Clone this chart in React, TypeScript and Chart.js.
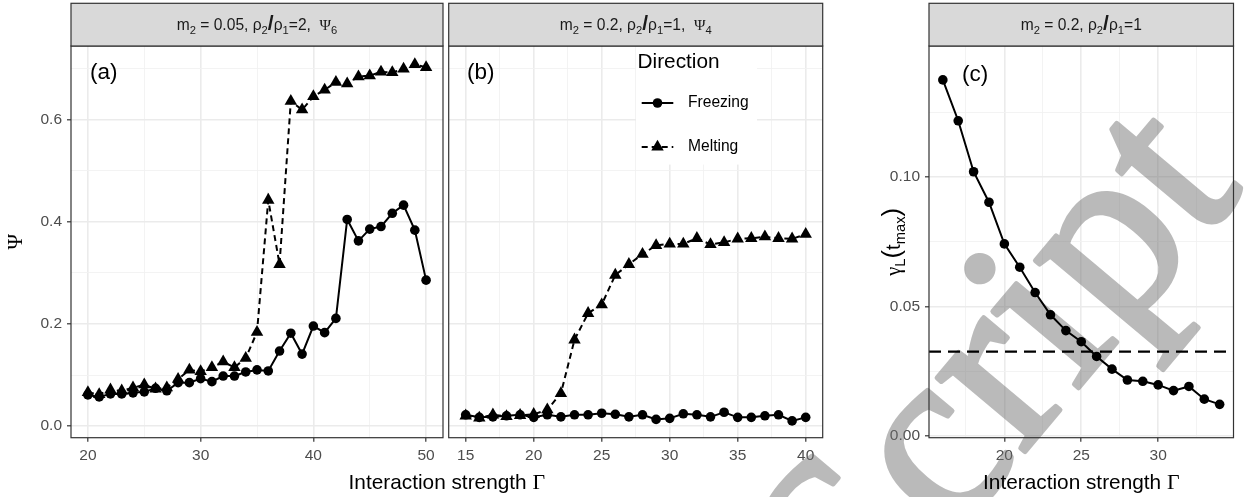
import { useEffect, useRef } from 'react';
import { Chart, registerables } from 'chart.js';

Chart.register(...registerables);

const W = 1256;
const H = 497;
const SANS = '"Liberation Sans", Arial, Helvetica, sans-serif';
const SERIF = '"Liberation Serif", "DejaVu Serif", serif';

// ---------------- data ----------------
// Panel (a): m2 = 0.05, rho2/rho1 = 2, Psi6
const gammaA = [20, 21, 22, 23, 24, 25, 26, 27, 28, 29, 30, 31, 32, 33, 34, 35, 36, 37, 38, 39, 40, 41, 42, 43, 44, 45, 46, 47, 48, 49, 50];
const freezingA = [0.061, 0.057, 0.063, 0.063, 0.065, 0.067, 0.074, 0.069, 0.085, 0.085, 0.093, 0.087, 0.098, 0.098, 0.106, 0.110, 0.108, 0.147, 0.182, 0.141, 0.196, 0.183, 0.211, 0.405, 0.363, 0.386, 0.391, 0.417, 0.433, 0.384, 0.286];
const meltingA = [0.066, 0.062, 0.071, 0.069, 0.075, 0.081, 0.073, 0.075, 0.092, 0.110, 0.107, 0.115, 0.126, 0.115, 0.133, 0.184, 0.443, 0.317, 0.637, 0.620, 0.646, 0.659, 0.674, 0.671, 0.685, 0.687, 0.694, 0.693, 0.700, 0.709, 0.703];

// Panel (b): m2 = 0.2, rho2/rho1 = 1, Psi4
const gammaB = [15, 16, 17, 18, 19, 20, 21, 22, 23, 24, 25, 26, 27, 28, 29, 30, 31, 32, 33, 34, 35, 36, 37, 38, 39, 40];
const freezingB = [0.022, 0.017, 0.018, 0.020, 0.022, 0.017, 0.022, 0.018, 0.022, 0.022, 0.025, 0.023, 0.018, 0.022, 0.013, 0.015, 0.024, 0.022, 0.018, 0.027, 0.017, 0.017, 0.020, 0.022, 0.010, 0.017];
const meltingB = [0.020, 0.016, 0.022, 0.019, 0.021, 0.023, 0.032, 0.064, 0.169, 0.221, 0.238, 0.296, 0.317, 0.337, 0.354, 0.357, 0.357, 0.368, 0.356, 0.360, 0.367, 0.368, 0.371, 0.368, 0.367, 0.376];

// Panel (c): m2 = 0.2, rho2/rho1 = 1, growth rate
const gammaC = [16, 17, 18, 19, 20, 21, 22, 23, 24, 25, 26, 27, 28, 29, 30, 31, 32, 33, 34];
const growthC = [0.1376, 0.1218, 0.1021, 0.0903, 0.0742, 0.0652, 0.0554, 0.0468, 0.0407, 0.0364, 0.0307, 0.0258, 0.0216, 0.0211, 0.0197, 0.0175, 0.0191, 0.0142, 0.0122];
const thresholdC = 0.0326;

const seriesNames = ['Freezing', 'Melting'];
const legendTitle = 'Direction';
const xTitle = 'Interaction strength ';
const xTitleSymbol = 'Γ';
const panelTags = ['(a)', '(b)', '(c)'];
const tagX = [21.4, 16.1, 18.1];
const tagYAB = 0.692;
const tagYC = 0.1395;
const watermark = 'Script';

// ticks
const xMajorA = [20, 30, 40, 50];
const xMinorA = [25, 35, 45];
const xMajorB = [15, 20, 25, 30, 35, 40];
const xMinorB = [17.5, 22.5, 27.5, 32.5, 37.5];
const xMajorC = [20, 25, 30];
const xMinorC = [17.5, 22.5, 27.5, 32.5];
const yMajorAB = [0, 0.2, 0.4, 0.6];
const yLabelsAB = ['0.0', '0.2', '0.4', '0.6'];
const yMinorAB = [0.1, 0.3, 0.5, 0.7];
const yMajorC = [0, 0.05, 0.1];
const yLabelsC = ['0.00', '0.05', '0.10'];
const yMinorC = [0.025, 0.075, 0.125];

// ---------------- style ----------------
const STRIP_TOP = 3.3;
const PLOT_TOP = 46;
const PLOT_BOTTOM = 437.7;
const AXIS = '#333333';
const GRID_MAJOR = '#EBEBEB';
const GRID_MINOR = '#F2F2F2';
const TICK_TXT = '#4D4D4D';
const STRIP_BG = '#D9D9D9';
const STRIP_TXT = '#1A1A1A';
const TICK_FONT = 15.5;
const TITLE_FONT = 20.8;

type Seg = { t: string; sub?: boolean; serif?: boolean; bold?: boolean; scale?: number };

function isIn(list: number[], v: number) {
  return list.some((m) => Math.abs(m - v) < 1e-9);
}

function drawRich(ctx: CanvasRenderingContext2D, segs: Seg[], x: number, y: number, size: number, color: string) {
  const fontFor = (s: Seg) => {
    const sz = (s.sub ? size * 0.72 : size) * (s.scale || 1);
    return `${s.bold ? 'bold ' : ''}${sz}px ${s.serif ? SERIF : SANS}`;
  };
  let total = 0;
  const widths = segs.map((s) => {
    ctx.font = fontFor(s);
    const w = ctx.measureText(s.t).width;
    total += w;
    return w;
  });
  let cx = x - total / 2;
  ctx.fillStyle = color;
  ctx.textAlign = 'left';
  ctx.textBaseline = 'alphabetic';
  segs.forEach((s, i) => {
    ctx.font = fontFor(s);
    ctx.fillText(s.t, cx, y + (s.sub ? size * 0.25 : 0));
    cx += widths[i];
  });
}

function stripSegs(m: string, ratio: string, psi?: string): Seg[] {
  const s: Seg[] = [
    { t: 'm' }, { t: '2', sub: true }, { t: ' = ' + m + ', ' },
    { t: 'ρ' }, { t: '2', sub: true }, { t: '/', bold: true, scale: 1.35 },
    { t: 'ρ' }, { t: '1', sub: true }, { t: '=' + ratio + (psi ? ',  ' : '') },
  ];
  if (psi) {
    s.push({ t: 'Ψ', serif: true }, { t: psi, sub: true });
  }
  return s;
}

function xScale(min: number, max: number, major: number[], minor: number[]) {
  return {
    type: 'linear',
    min,
    max,
    bounds: 'data',
    afterBuildTicks: (axis: any) => {
      axis.ticks = [...major, ...minor].sort((a, b) => a - b).map((v) => ({ value: v }));
    },
    afterFit: (axis: any) => {
      axis.height = H - PLOT_BOTTOM;
    },
    border: { display: false },
    grid: {
      color: (c: any) => (isIn(major, c.tick?.value) ? GRID_MAJOR : GRID_MINOR),
      lineWidth: (c: any) => (isIn(major, c.tick?.value) ? 1.6 : 0.9),
      tickColor: (c: any) => (isIn(major, c.tick?.value) ? AXIS : 'rgba(0,0,0,0)'),
      tickWidth: 1.2,
      tickLength: 4,
      drawTicks: true,
    },
    ticks: {
      autoSkip: false,
      maxRotation: 0,
      minRotation: 0,
      padding: 4.5,
      color: TICK_TXT,
      font: { family: SANS, size: TICK_FONT },
      callback: (v: number) => {
        const i = major.findIndex((m) => Math.abs(m - v) < 1e-9);
        return i >= 0 ? String(major[i]) : '';
      },
    },
  };
}

function yScale(min: number, max: number, major: number[], labels: string[], minor: number[], width: number, show: boolean) {
  return {
    type: 'linear',
    min,
    max,
    bounds: 'data',
    afterBuildTicks: (axis: any) => {
      axis.ticks = [...major, ...minor].sort((a, b) => a - b).map((v) => ({ value: v }));
    },
    afterFit: (axis: any) => {
      axis.width = width;
    },
    border: { display: false },
    grid: {
      color: (c: any) => (isIn(major, c.tick?.value) ? GRID_MAJOR : GRID_MINOR),
      lineWidth: (c: any) => (isIn(major, c.tick?.value) ? 1.6 : 0.9),
      tickColor: (c: any) => (show && isIn(major, c.tick?.value) ? AXIS : 'rgba(0,0,0,0)'),
      tickWidth: 1.2,
      tickLength: 4,
      drawTicks: show,
    },
    ticks: {
      display: show,
      autoSkip: false,
      padding: 5,
      color: TICK_TXT,
      font: { family: SANS, size: TICK_FONT },
      callback: (v: number) => {
        const i = major.findIndex((m) => Math.abs(m - v) < 1e-9);
        return i >= 0 ? labels[i] : '';
      },
    },
  };
}

function series(xs: number[], ys: number[], dashed: boolean, label: string) {
  return {
    label,
    data: xs.map((x, i) => ({ x, y: ys[i] })),
    borderColor: '#000',
    borderWidth: 2,
    borderDash: dashed ? [6, 4] : [],
    tension: 0,
    fill: false,
    pointStyle: dashed ? 'triangle' : 'circle',
    pointRadius: dashed ? 7.2 : 4.8,
    pointHoverRadius: dashed ? 7.2 : 4.8,
    pointBackgroundColor: '#000',
    pointBorderColor: '#000',
    pointBorderWidth: 0,
  };
}

function drawMarker(ctx: CanvasRenderingContext2D, kind: string, x: number, y: number, r: number) {
  ctx.beginPath();
  if (kind === 'circle') {
    ctx.arc(x, y, r, 0, Math.PI * 2);
  } else {
    ctx.moveTo(x, y - r);
    ctx.lineTo(x + r * 0.866, y + r / 2);
    ctx.lineTo(x - r * 0.866, y + r / 2);
    ctx.closePath();
  }
  ctx.fillStyle = '#000';
  ctx.fill();
}

function drawXTitle(ctx: CanvasRenderingContext2D, cx: number) {
  drawRich(ctx, [{ t: xTitle }, { t: xTitleSymbol, serif: true, scale: 1.05 }], cx, 488.5, TITLE_FONT, '#000');
}

function drawWatermark(ctx: CanvasRenderingContext2D) {
  const off = document.createElement('canvas');
  off.width = W;
  off.height = H;
  const o = off.getContext('2d')!;
  o.translate(861, 647);
  o.rotate((-50 * Math.PI) / 180);
  o.font = `250px ${SERIF}`;
  o.textAlign = 'left';
  o.textBaseline = 'alphabetic';
  o.fillStyle = '#6e6e6e';
  o.strokeStyle = '#6e6e6e';
  o.lineWidth = 5;
  o.lineJoin = 'round';
  o.fillText(watermark, 0, 0);
  o.strokeText(watermark, 0, 0);
  ctx.save();
  ctx.globalAlpha = 0.47;
  ctx.drawImage(off, 0, 0);
  ctx.restore();
}

function panelPlugin(strip: Seg[], tag: string, tx: number, ty: number, extraBefore?: (c: any) => void, extraAfter?: (c: any) => void) {
  return {
    id: 'panelDecor',
    beforeDatasetsDraw(chart: any) {
      if (extraBefore) extraBefore(chart);
    },
    afterDatasetsDraw(chart: any) {
      const { ctx, chartArea: a, scales } = chart;
      ctx.save();
      if (extraAfter) extraAfter(chart);
      ctx.strokeStyle = AXIS;
      ctx.lineWidth = 1.2;
      ctx.setLineDash([]);
      ctx.strokeRect(a.left, a.top, a.right - a.left, a.bottom - a.top);
      ctx.fillStyle = STRIP_BG;
      ctx.fillRect(a.left, STRIP_TOP, a.right - a.left, a.top - STRIP_TOP);
      ctx.strokeRect(a.left, STRIP_TOP, a.right - a.left, a.top - STRIP_TOP);
      drawRich(ctx, strip, (a.left + a.right) / 2, 30, 15.6, STRIP_TXT);
      ctx.font = `22.5px ${SANS}`;
      ctx.fillStyle = '#000';
      ctx.textAlign = 'center';
      ctx.textBaseline = 'middle';
      ctx.fillText(tag, scales.x.getPixelForValue(tx), scales.y.getPixelForValue(ty));
      ctx.restore();
    },
  };
}

function baseOptions(padLeft: number, padRight: number, scales: any) {
  return {
    responsive: false,
    animation: false,
    devicePixelRatio: 1,
    events: [],
    layout: { padding: { left: padLeft, right: padRight, top: PLOT_TOP, bottom: 0 } },
    plugins: { legend: { display: false }, tooltip: { enabled: false } },
    scales,
  };
}

export default function App() {
  const refA = useRef<HTMLCanvasElement>(null);
  const refB = useRef<HTMLCanvasElement>(null);
  const refC = useRef<HTMLCanvasElement>(null);

  useEffect(() => {
    const charts: Chart[] = [];
    const yMinAB = -0.0229;
    const yMaxAB = 0.745;

    // ---- panel A ----
    charts.push(
      new Chart(refA.current!, {
        type: 'line',
        data: {
          datasets: [
            series(gammaA, meltingA, true, seriesNames[1]),
            series(gammaA, freezingA, false, seriesNames[0]),
          ] as any,
        },
        options: baseOptions(0, W - 443, {
          x: xScale(18.5, 51.5, xMajorA, xMinorA),
          y: yScale(yMinAB, yMaxAB, yMajorAB, yLabelsAB, yMinorAB, 71, true),
        }) as any,
        plugins: [
          panelPlugin(stripSegs('0.05', '2', '6'), panelTags[0], tagX[0], tagYAB),
          {
            id: 'titlesA',
            afterDraw(chart: any) {
              const ctx = chart.ctx;
              ctx.save();
              drawXTitle(ctx, 446.8);
              ctx.fillStyle = '#000';
              ctx.textAlign = 'center';
              ctx.textBaseline = 'middle';
              ctx.translate(16, (PLOT_TOP + PLOT_BOTTOM) / 2);
              ctx.rotate(-Math.PI / 2);
              ctx.font = `21px ${SERIF}`;
              ctx.fillText('Ψ', 0, 0);
              ctx.restore();
            },
          },
        ],
      })
    );

    // ---- panel B ----
    charts.push(
      new Chart(refB.current!, {
        type: 'line',
        data: {
          datasets: [
            series(gammaB, meltingB, true, seriesNames[1]),
            series(gammaB, freezingB, false, seriesNames[0]),
          ] as any,
        },
        options: baseOptions(445, W - 822.7, {
          x: xScale(13.75, 41.25, xMajorB, xMinorB),
          y: yScale(yMinAB, yMaxAB, yMajorAB, yLabelsAB, yMinorAB, 3.7, false),
        }) as any,
        plugins: [
          panelPlugin(stripSegs('0.2', '1', '4'), panelTags[1], tagX[1], tagYAB, undefined, (chart: any) => {
            const ctx = chart.ctx;
            ctx.fillStyle = '#fff';
            ctx.fillRect(636, PLOT_TOP + 0.6, 121, 118);
            ctx.fillStyle = '#000';
            ctx.textAlign = 'left';
            ctx.textBaseline = 'middle';
            ctx.font = `${TITLE_FONT}px ${SANS}`;
            ctx.fillText(legendTitle, 637.5, 62);
            const rows = [
              { name: seriesNames[0], y: 103, dashed: false },
              { name: seriesNames[1], y: 147, dashed: true },
            ];
            rows.forEach((r) => {
              ctx.strokeStyle = '#000';
              ctx.lineWidth = 2;
              ctx.setLineDash(r.dashed ? [6, 4] : []);
              ctx.beginPath();
              ctx.moveTo(641.7, r.y);
              ctx.lineTo(673.3, r.y);
              ctx.stroke();
              ctx.setLineDash([]);
              drawMarker(ctx, r.dashed ? 'triangle' : 'circle', 657.5, r.y, r.dashed ? 7.2 : 4.8);
              ctx.fillStyle = '#000';
              ctx.font = `15.6px ${SANS}`;
              ctx.fillText(r.name, 688, r.y);
            });
          }),
        ],
      })
    );

    // ---- panel C ----
    charts.push(
      new Chart(refC.current!, {
        type: 'line',
        data: {
          datasets: [series(gammaC, growthC, false, 'growth')] as any,
        },
        options: baseOptions(0, W - 1233.5, {
          x: xScale(15.1, 34.9, xMajorC, xMinorC),
          y: yScale(-0.0007, 0.1507, yMajorC, yLabelsC, yMinorC, 929, true),
        }) as any,
        plugins: [
          panelPlugin(
            stripSegs('0.2', '1'),
            panelTags[2],
            tagX[2],
            tagYC,
            (chart: any) => {
              const ctx = chart.ctx;
              const a = chart.chartArea;
              drawWatermark(ctx);
              // threshold line
              ctx.save();
              const y = chart.scales.y.getPixelForValue(thresholdC);
              ctx.strokeStyle = '#000';
              ctx.lineWidth = 2.2;
              ctx.setLineDash([12, 7]);
              ctx.beginPath();
              ctx.moveTo(a.left, y);
              ctx.lineTo(a.right, y);
              ctx.stroke();
              ctx.restore();
            }
          ),
          {
            id: 'titlesC',
            afterDraw(chart: any) {
              const ctx = chart.ctx;
              ctx.save();
              drawXTitle(ctx, 1081.3);
              ctx.translate(893, (PLOT_TOP + PLOT_BOTTOM) / 2);
              ctx.rotate(-Math.PI / 2);
              drawRich(
                ctx,
                [
                  { t: 'γ', serif: true },
                  { t: 'L', sub: true },
                  { t: '(', scale: 1.25 },
                  { t: 't' },
                  { t: 'max', sub: true },
                  { t: ')', scale: 1.25 },
                ],
                0,
                7,
                20.5,
                '#000'
              );
              ctx.restore();
            },
          },
        ],
      })
    );

    return () => charts.forEach((c) => c.destroy());
  }, []);

  const cs: any = { position: 'absolute', left: 0, top: 0 };
  return (
    <div style={{ position: 'fixed', left: 0, top: 0, width: W, height: H, background: '#fff' }}>
      <canvas ref={refA} width={W} height={H} style={cs} />
      <canvas ref={refB} width={W} height={H} style={cs} />
      <canvas ref={refC} width={W} height={H} style={cs} />
    </div>
  );
}
